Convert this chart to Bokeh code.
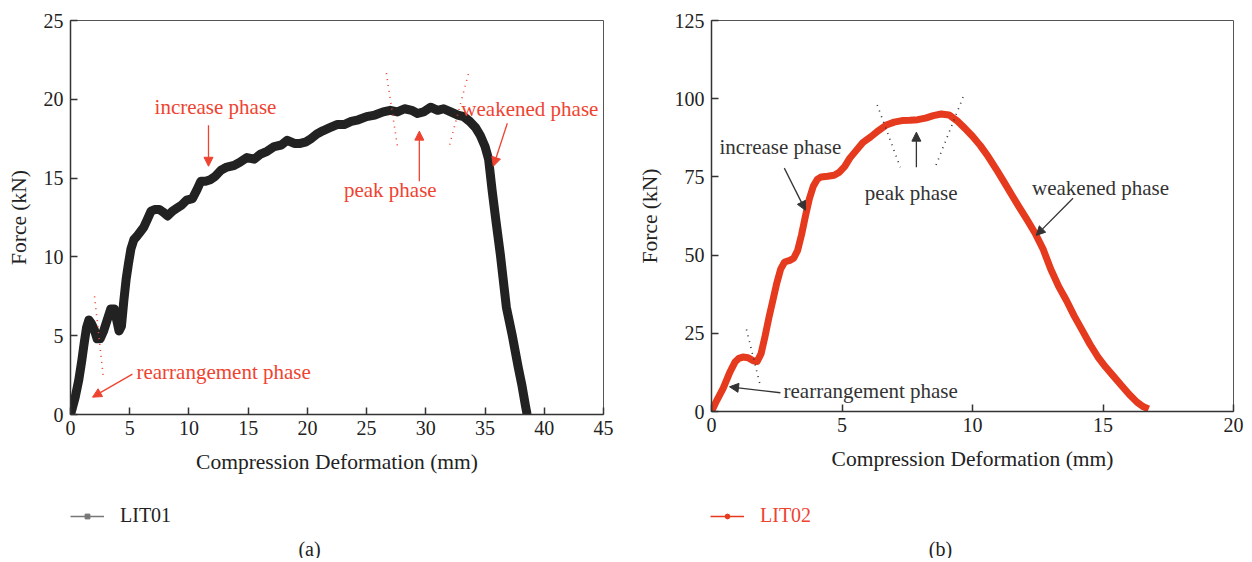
from bokeh.plotting import figure
from bokeh.models import (Range1d, FixedTicker, Label, Arrow, NormalHead,
                          Legend, LegendItem)
from bokeh.layouts import row, column
from bokeh.embed import file_html
from bokeh.resources import INLINE

# ---------------- data ----------------
x1_ticks = [0, 5, 10, 15, 20, 25, 30, 35, 40, 45]
y1_ticks = [0, 5, 10, 15, 20, 25]
x2_ticks = [0, 5, 10, 15, 20]
y2_ticks = [0, 25, 50, 75, 100, 125]

lit01_x = [0, 0.15, 0.4, 0.7, 0.95, 1.15, 1.35, 1.55, 1.75, 2.0,
           2.25, 2.5, 2.8, 3.1, 3.4, 3.7, 3.9, 4.1, 4.3, 4.5,
           4.7, 4.9, 5.1, 5.35, 5.6, 5.9, 6.2, 6.5, 6.8, 7.1,
           7.5, 7.9, 8.2, 8.6, 9.0, 9.4, 9.8, 10.3, 10.7, 11.0,
           11.4, 11.8, 12.2, 12.7, 13.2, 13.8, 14.3, 14.9, 15.5, 16.0,
           16.6, 17.2, 17.8, 18.3, 18.9, 19.4, 19.9, 20.3, 20.8, 21.3,
           21.9, 22.5, 23.1, 23.7, 24.3, 25.0, 25.7, 26.4, 27.0, 27.6,
           28.2, 28.8, 29.3, 29.8, 30.4, 31.0, 31.5, 32.1, 32.7, 33.2,
           33.7, 34.2, 34.6, 35.0, 35.3, 35.6, 35.9, 36.3, 36.8, 37.3,
           37.8, 38.1, 38.4, 38.55]
lit01_y = [0, 0.4, 1.1, 2.2, 3.4, 4.5, 5.5, 6.0, 5.8, 5.4,
           4.8, 4.8, 5.3, 6.0, 6.7, 6.7, 6.0, 5.3, 5.6, 7.2,
           8.6, 9.6, 10.5, 11.1, 11.3, 11.6, 11.9, 12.4, 12.9, 13.0,
           13.0, 12.8, 12.6, 12.9, 13.1, 13.3, 13.6, 13.7, 14.3, 14.8,
           14.8, 14.9, 15.1, 15.5, 15.7, 15.8, 16.0, 16.3, 16.2, 16.5,
           16.7, 17.0, 17.1, 17.4, 17.2, 17.2, 17.3, 17.5, 17.8, 18.0,
           18.2, 18.4, 18.4, 18.6, 18.7, 18.9, 19.0, 19.2, 19.3, 19.2,
           19.4, 19.3, 19.1, 19.2, 19.5, 19.3, 19.4, 19.2, 19.0, 18.9,
           18.6, 18.2, 17.7, 17.0, 16.2, 14.2, 12.4, 10.1, 6.8, 5.0,
           3.0, 1.9, 0.6, 0.0]

lit02_x = [0, 0.2, 0.45, 0.7, 0.9, 1.05, 1.2, 1.4, 1.6, 1.75,
           1.9, 2.05, 2.2, 2.35, 2.5, 2.65, 2.8, 3.0, 3.15, 3.3,
           3.45, 3.6, 3.75, 3.9, 4.05, 4.2, 4.45, 4.7, 4.9, 5.1,
           5.3, 5.5, 5.8, 6.1, 6.4, 6.7, 7.0, 7.3, 7.6, 7.9,
           8.2, 8.5, 8.8, 9.1, 9.4, 9.7, 10.0, 10.3, 10.6, 10.9,
           11.2, 11.5, 11.8, 12.1, 12.4, 12.7, 13.0, 13.3, 13.6, 13.9,
           14.2, 14.5, 14.8, 15.1, 15.4, 15.7, 16.0, 16.3, 16.55, 16.75]
lit02_y = [0.0, 3.5, 7.5, 12.5, 15.8, 17.0, 17.4, 17.2, 16.2, 16.0,
           18.5, 24.0, 30.0, 35.5, 41.0, 45.5, 47.8, 48.3, 49.0, 51.5,
           56.5, 62.5, 68.0, 72.0, 74.2, 75.0, 75.2, 75.5, 76.5, 78.3,
           81.0, 83.0, 86.0, 87.8, 89.8, 91.6, 92.5, 93.0, 93.1, 93.3,
           93.8, 94.6, 95.1, 94.8, 93.0, 90.6, 88.0, 85.0, 81.5, 77.6,
           73.5, 69.3, 65.2, 61.2, 57.0, 52.0, 45.5, 40.0, 35.5, 30.5,
           26.0, 21.5, 17.5, 14.2, 11.3, 8.4, 5.5, 3.0, 1.5, 0.8]

xlabel = "Compression Deformation (mm)"
ylabel = "Force (kN)"
phases = ["increase phase", "peak phase", "weakened phase", "rearrangement phase"]
captions = ["(a)", "(b)"]
series = ["LIT01", "LIT02"]

FONT = "Liberation Serif"
RED_TXT = "#ef4331"
RED_LINE = "#e63a1e"
DARK = "#222222"
TXT2 = "#333333"


def make_fig(xmax, ymax, xt, yt, fw, fh, bl, br, bt, bb):
    p = figure(frame_width=fw, frame_height=fh,
               x_range=Range1d(0, xmax), y_range=Range1d(0, ymax),
               output_backend="svg", toolbar_location=None,
               min_border_left=bl, min_border_right=br,
               min_border_top=bt, min_border_bottom=bb,
               background_fill_color="white", border_fill_color="white",
               outline_line_color="#555555")
    p.grid.visible = False
    p.xaxis.ticker = FixedTicker(ticks=xt)
    p.yaxis.ticker = FixedTicker(ticks=yt)
    for ax in (p.xaxis[0], p.yaxis[0]):
        ax.major_tick_in = 7
        ax.major_tick_out = 0
        ax.minor_tick_line_color = None
        ax.axis_line_color = "#333333"
        ax.axis_line_width = 1.5
        ax.major_tick_line_color = "#333333"
        ax.major_tick_line_width = 1.5
        ax.major_label_text_font = FONT
        ax.major_label_text_font_size = "20px"
        ax.major_label_text_color = DARK
        ax.axis_label_text_font = FONT
        ax.axis_label_text_font_size = "21.5px"
        ax.axis_label_text_font_style = "normal"
        ax.axis_label_text_color = DARK
    p.xaxis.axis_label = xlabel
    p.yaxis.axis_label = ylabel
    p.xaxis.major_label_standoff = 6
    p.yaxis.major_label_standoff = 7
    p.xaxis.axis_label_standoff = 12
    p.yaxis.axis_label_standoff = 10
    return p


def make_foot(w, h):
    q = figure(width=w, height=h, x_range=Range1d(0, w), y_range=Range1d(0, h),
               output_backend="svg", toolbar_location=None, min_border=0,
               x_axis_location=None, y_axis_location=None,
               outline_line_color=None, background_fill_color="white",
               border_fill_color="white")
    q.grid.visible = False
    return q


def add_text(p, x, y, text, color, align="center", size="21px"):
    p.add_layout(Label(x=x, y=y, text=text, text_font=FONT, text_font_size=size,
                       text_color=color, text_align=align, text_baseline="middle"))


def add_arrow(p, x0, y0, x1, y1, color):
    p.add_layout(Arrow(end=NormalHead(size=9, fill_color=color, line_color=color),
                       x_start=x0, y_start=y0, x_end=x1, y_end=y1,
                       line_color=color, line_width=1.3))


def add_dots(p, x0, y0, x1, y1, color):
    p.add_layout(Arrow(end=None, x_start=x0, y_start=y0, x_end=x1, y_end=y1,
                       line_color=color, line_width=1.6, line_dash="1 5"))


def add_legend(q, label, renderers, color, x, y):
    for r in renderers:
        r.visible = False
    q.add_layout(Legend(items=[LegendItem(label=label, renderers=renderers)],
                        location=(x, y), orientation="horizontal",
                        border_line_color=None, background_fill_alpha=0,
                        inactive_fill_alpha=0,
                        padding=2, margin=0, glyph_width=34, glyph_height=12,
                        label_standoff=16, label_text_font=FONT,
                        label_text_font_size="20px", label_text_color=color))


MAIN_H = 482
FOOT_H = 76
W1, W2 = 633, 619

# ---------------- panel (a) ----------------
p1 = make_fig(45, 25, x1_ticks, y1_ticks, 533, 394, 70, 30, 19, MAIN_H - 394 - 19)
p1.line(lit01_x, lit01_y, line_color=DARK, line_width=9, line_join="round")

add_text(p1, 12.24, 19.5, phases[0], RED_TXT)
add_arrow(p1, 11.65, 18.35, 11.65, 15.75, RED_TXT)
add_text(p1, 27.0, 14.23, phases[1], RED_TXT)
add_arrow(p1, 29.45, 14.8, 29.45, 17.98, RED_TXT)
add_text(p1, 33.0, 19.37, phases[2], RED_TXT, "left")
add_arrow(p1, 36.88, 18.48, 35.7, 15.75, RED_TXT)
add_text(p1, 5.57, 2.69, phases[3], RED_TXT, "left")
add_arrow(p1, 5.23, 2.56, 1.86, 1.1, RED_TXT)
add_dots(p1, 26.67, 21.66, 27.6, 17.03, RED_TXT)
add_dots(p1, 33.59, 21.6, 31.98, 17.03, RED_TXT)
add_dots(p1, 2.03, 7.5, 2.78, 2.3, RED_TXT)

q1 = make_foot(W1, FOOT_H)
g1 = q1.line(lit01_x, lit01_y, line_color="#777777", line_width=1.5)
s1 = q1.scatter(lit01_x, lit01_y, marker="square", size=5, color="#777777")
add_legend(q1, series[0], [g1, s1], DARK, 70, 31)
add_text(q1, 309, 10, captions[0], DARK, "center", "20px")

# ---------------- panel (b) ----------------
p2 = make_fig(20, 125, x2_ticks, y2_ticks, 522, 391, 78, W2 - 78 - 522, 20, MAIN_H - 391 - 20)
p2.line(lit02_x, lit02_y, line_color=RED_LINE, line_width=7, line_join="round")

add_text(p2, 2.64, 84.5, phases[0], TXT2)
add_arrow(p2, 2.79, 77.8, 3.6, 64.3, TXT2)
add_text(p2, 7.65, 69.8, phases[1], TXT2)
add_arrow(p2, 7.85, 78.1, 7.85, 89.3, TXT2)
add_text(p2, 12.28, 71.4, phases[2], TXT2, "left")
add_arrow(p2, 13.85, 68.2, 12.44, 56.3, TXT2)
add_text(p2, 2.76, 6.6, phases[3], TXT2, "left")
add_arrow(p2, 2.64, 6.0, 0.69, 7.9, TXT2)
add_dots(p2, 6.35, 98.0, 7.23, 78.1, TXT2)
add_dots(p2, 9.64, 100.5, 8.57, 78.1, TXT2)
add_dots(p2, 1.34, 26.2, 1.88, 7.9, TXT2)

q2 = make_foot(W2, FOOT_H)
g2 = q2.line(lit02_x, lit02_y, line_color=RED_LINE, line_width=1.5)
s2 = q2.scatter(lit02_x, lit02_y, marker="circle", size=5, color=RED_LINE)
add_legend(q2, series[1], [g2, s2], RED_TXT, 77, 31)
add_text(q2, 307, 10, captions[1], DARK, "center", "20px")

layout = column(row(p1, p2), row(q1, q2))
open("out.html", "w").write(file_html(layout, INLINE))
